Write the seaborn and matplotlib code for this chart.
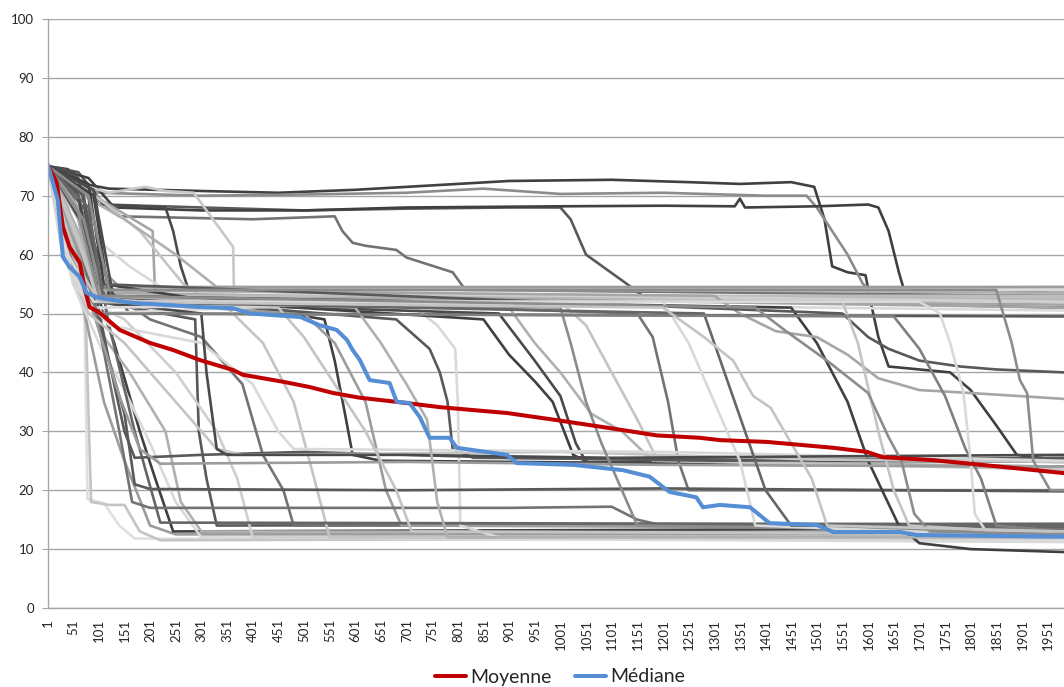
import matplotlib
matplotlib.use('Agg')
import pandas as pd
import matplotlib.pyplot as plt
import seaborn as sns

# individual runs: (iteration, value) breakpoints
run_steps = [
    [(1,75),(40,74.5),(70,72),(120,71.2),(300,70.8),(450,70.5),(600,71),(700,71.5),(900,72.5),(1100,72.7),(1250,72.3),(1350,72),(1450,72.3),(1495,71.5),(1515,66),(1530,58),(1560,57),(1595,56.5),(1605,52),(1620,46),(1640,41),(1700,40.5),(1760,40),(1800,37),(1850,31),(1890,26),(1982,25)],
    [(1,75),(50,73),(100,70.5),(300,70),(500,70.2),(700,70.5),(850,71.2),(1000,70.3),(1200,70.5),(1400,70),(1480,70),(1500,68),(1560,60),(1590,55),(1620,53),(1982,53)],
    [(1,75),(60,74),(110,68.5),(300,68),(500,67.5),(700,67.8),(900,68),(1000,68),(1020,66),(1050,60),(1090,57.5),(1130,55),(1160,53),(1982,52)],
    [(1,75),(80,73),(130,68),(300,67.5),(500,67.5),(700,68),(1000,68.2),(1200,68.3),(1340,68.2),(1350,69.5),(1360,68),(1500,68.2),(1600,68.5),(1620,68),(1640,64),(1660,57),(1670,54),(1982,53.5)],
    [(1,75),(90,70),(140,66.5),(400,66),(560,66.5),(575,64),(595,62),(620,61.5),(680,60.8),(700,59.5),(790,57),(815,54),(1982,53)],
    [(1,75),(60,72),(120,70.5),(190,71.5),(230,70.8),(285,70.5),(362,61.3),(364,52),(1982,52.5)],
    [(1,75),(50,74),(100,68.5),(230,68),(245,64),(260,58),(275,54),(1982,51)],
    [(1,75),(60,72),(110,69),(205,64),(210,53),(1982,51.5)],
    [(1,75),(60,71),(100,69.5),(180,64),(265,55),(300,53),(1982,52)],
    [(1,75),(70,70),(150,66),(250,60),(330,54.5),(1982,53.5)],
    [(1,75),(50,69),(90,63),(160,58),(230,54),(1982,54)],
    [(1,75),(40,68),(70,58),(90,53),(1982,52.5)],
    [(1,75),(30,65),(60,56),(100,54),(1982,54.5)],
    [(1,75),(50,70),(75,60),(110,53.5),(1982,51)],
    [(1,75),(25,62),(55,55),(80,52.5),(1982,50.5)],
    [(1,75),(60,73),(90,62),(120,55),(160,50),(1982,49.5)],
    [(1,75),(45,66),(85,56),(140,53),(1982,53)],
    [(1,75),(35,60),(60,54),(1982,52)],
    [(1,75),(70,66),(100,58),(140,54.5),(1982,54.5)],
    [(1,75),(30,62),(60,53),(72,50),(78,18.5),(110,17.8),(140,14),(170,11.8),(1982,11.5)],
    [(1,75),(40,63),(68,52),(75,48),(85,18),(120,17.5),(150,17.5),(180,13),(220,11.5),(1982,12)],
    [(1,75),(50,60),(80,47),(110,35),(150,25),(200,14),(250,12.5),(1982,12.5)],
    [(1,75),(70,70),(90,55),(130,45),(180,30),(210,22),(245,13),(1982,13.5)],
    [(1,75),(50,55),(100,45),(150,37),(200,28),(250,18),(300,12),(1982,11.2)],
    [(1,75),(60,58),(110,46),(160,40),(230,30),(260,18),(300,13),(1982,12.8)],
    [(1,75),(80,70),(100,52),(288,49),(295,30),(310,22),(330,14),(1982,14.3)],
    [(1,75),(40,60),(80,52),(150,49),(250,40),(330,30),(370,22),(400,12),(1982,11.8)],
    [(1,75),(60,68),(100,55),(200,49),(300,46),(380,38),(420,26),(460,20),(480,14),(1982,14)],
    [(1,75),(60,62),(100,53),(350,51),(420,45),(480,35),(520,22),(550,12),(1982,12)],
    [(1,75),(80,72),(110,55),(400,51),(540,49),(560,42),(580,33),(595,26),(650,25),(1982,24)],
    [(1,75),(60,60),(90,52),(500,50),(560,45),(620,35),(660,20),(690,14),(1982,13.5)],
    [(1,75),(70,70),(110,53),(680,49),(745,44),(765,40),(780,35),(790,27),(830,25.5),(1982,24.8)],
    [(1,75),(50,58),(80,50),(700,52),(760,48),(795,44),(800,35),(805,14),(880,12),(1982,12)],
    [(1,75),(90,70),(120,53),(850,49),(900,43),(950,38.5),(985,35),(1025,26),(1060,24.5),(1982,24)],
    [(1,75),(90,71),(130,52),(880,50),(950,42),(1000,36),(1030,28),(1050,24.8),(1982,25)],
    [(1,75),(60,66),(100,53),(900,51),(950,45),(1000,40),(1060,33),(1120,30),(1180,25),(1982,24)],
    [(1,75),(50,60),(90,52),(1000,52),(1050,48),(1100,40),(1150,32),(1190,25),(1982,23.5)],
    [(1,75),(60,70),(110,53),(1150,50),(1180,46),(1210,35),(1230,25),(1250,20),(1982,20)],
    [(1,75),(70,60),(110,45),(150,33),(170,21),(200,20.2),(700,20),(1200,20.3),(1982,19.8)],
    [(1,75),(60,62),(100,48),(140,30),(165,18),(200,17),(900,17),(1100,17.2),(1150,15),(1200,14),(1982,13.5)],
    [(1,75),(80,67),(120,48),(170,30),(220,14.5),(1982,14.2)],
    [(1,75),(70,65),(100,53),(1450,51),(1500,45),(1560,35),(1600,25),(1660,14),(1700,11),(1800,10),(1982,9.5)],
    [(1,75),(60,68),(100,54),(1300,53),(1350,50),(1420,47),(1500,46),(1560,43),(1620,39),(1700,37),(1800,36.5),(1982,35.5)],
    [(1,75),(70,70),(100,55),(1550,50),(1600,46),(1640,44),(1700,42),(1780,41),(1850,40.5),(1982,40)],
    [(1,75),(60,70),(90,55),(120,42),(150,30),(170,25.5),(300,26),(500,26.5),(900,25.5),(1300,25),(1982,25.5)],
    [(1,75),(50,64),(90,50),(140,36),(180,27),(220,24.5),(700,24.8),(1200,24.3),(1982,24)],
    [(1,75),(40,58),(80,50),(150,45),(250,35),(330,27),(380,26),(1000,26.5),(1500,25.2),(1982,24.8)],
    [(1,75),(50,55),(120,48),(300,45),(400,38),(450,30),(480,27),(1200,26.5),(1982,25)],
    [(1,75),(60,70),(100,52),(300,50),(310,40),(330,27),(350,26),(700,26),(1100,25.5),(1982,26)],
    [(1,75),(60,58),(100,52),(450,51),(500,46),(560,38),(620,30),(680,20),(710,13),(1982,12.5)],
    [(1,75),(60,64),(100,53),(600,51),(650,45),(700,38),(740,32),(760,18),(780,12),(1982,12)],
    [(1,75),(70,66),(110,52),(1000,51),(1020,45),(1050,35),(1080,28),(1110,22),(1150,14),(1982,13)],
    [(1,75),(50,56),(90,51),(1200,52),(1250,45),(1300,35),(1350,25),(1380,14),(1982,12)],
    [(1,75),(80,68),(110,52),(1280,50),(1320,40),(1360,30),(1400,20),(1450,14),(1982,13.8)],
    [(1,75),(60,63),(100,52),(1550,52),(1580,45),(1620,30),(1650,20),(1680,14),(1982,12.5)],
    [(1,75),(50,58),(100,50),(1650,49.5),(1700,44),(1750,36),(1790,27),(1820,22),(1850,14),(1982,13)],
    [(1,75),(40,60),(90,52),(1700,52),(1740,50),(1760,45),(1786,36.5),(1800,25),(1808,16),(1830,13),(1982,12)],
    [(1,75),(60,67),(100,53),(1380,51),(1440,47),(1520,42),(1600,36.5),(1640,29),(1665,25),(1690,16),(1720,13),(1982,12.5)],
    [(1,75),(60,62),(100,52),(1200,51),(1280,46),(1337,42),(1376,36),(1410,34),(1430,31),(1490,22),(1520,14),(1982,13)],
    [(1,75),(80,70),(120,54),(1850,54),(1880,45),(1896,38.7),(1910,36.5),(1922,25),(1955,20),(1982,20)],
]
run_shades = ['#404040', '#8c8c8c', '#595959', '#404040', '#737373', '#c8c8c8', '#4a4a4a', '#a6a6a6',
              '#c4c4c4', '#b0b0b0', '#d9d9d9', '#b8b8b8', '#c8c8c8', '#a6a6a6', '#d9d9d9', '#595959',
              '#bdbdbd', '#d0d0d0', '#9c9c9c', '#e0e0e0', '#c4c4c4', '#9c9c9c', '#404040', '#d9d9d9',
              '#b0b0b0', '#595959', '#cfcfcf', '#737373', '#c4c4c4', '#404040', '#9c9c9c', '#595959',
              '#d9d9d9', '#404040', '#4a4a4a', '#b0b0b0', '#c4c4c4', '#737373', '#595959', '#737373',
              '#666666', '#404040', '#a6a6a6', '#595959', '#595959', '#9c9c9c', '#c4c4c4', '#d9d9d9',
              '#4a4a4a', '#c4c4c4', '#b0b0b0', '#8c8c8c', '#d9d9d9', '#666666', '#c4c4c4', '#808080',
              '#d9d9d9', '#8c8c8c', '#c4c4c4', '#8c8c8c']

mean_x = [1, 18, 30, 43, 63, 73, 82, 102, 141, 200, 245, 297, 362, 381, 460, 512, 557, 609, 681, 765, 896,
          993, 1122, 1188, 1272, 1311, 1402, 1532, 1598, 1629, 1727, 1857, 1982]
mean_y = [75.2, 72.2, 64.7, 61.3, 58.6, 54, 51.1, 50.1, 47.2, 45, 43.8, 42.1, 40.4, 39.6, 38.4, 37.5, 36.5, 35.7,
          35, 34.1, 33.1, 31.9, 30.2, 29.3, 28.9, 28.5, 28.2, 27.2, 26.5, 25.6, 25.1, 24.0, 22.9]

median_x = [1, 20, 30, 43, 63, 76, 102, 167, 297, 362, 395, 493, 531, 564, 584, 595, 609, 628, 667, 681, 706,
            726, 745, 784, 798, 896, 915, 1025, 1122, 1174, 1213, 1265, 1278, 1311, 1370, 1408, 1500, 1532,
            1662, 1695, 1982]
median_y = [75.2, 69.3, 59.6, 57.9, 56.2, 53.5, 52.6, 51.8, 51.1, 50.9, 50, 49.4, 48, 47.2, 45.5, 43.8, 42.1,
            38.7, 38.2, 35, 34.8, 32.4, 28.9, 28.9, 27.2, 26, 24.6, 24.3, 23.4, 22.3, 19.7, 18.8, 17.1, 17.5,
            17.1, 14.4, 14.1, 12.9, 12.9, 12.4, 12.1]

sns.set_style("white")
plt.rcParams['font.family'] = ['Lato', 'DejaVu Sans']

fig = plt.figure(figsize=(10.64, 6.87), dpi=100)
ax = fig.add_axes([48/1064, 79/687, 1016/1064, 589/687])

for steps, shade in zip(run_steps, run_shades):
    df = pd.DataFrame(steps, columns=["iter", "value"])
    sns.lineplot(x="iter", y="value", data=df, ax=ax, color=shade, lw=1.9,
                 sort=False, estimator=None, legend=False)

sns.lineplot(x=mean_x, y=mean_y, ax=ax, color="#c00000", lw=2.9, sort=False,
             estimator=None, label="Moyenne")
sns.lineplot(x=median_x, y=median_y, ax=ax, color="#558ed5", lw=2.9, sort=False,
             estimator=None, label="Médiane")

ax.set_xlim(1, 1982)
ax.set_ylim(0, 100)
ax.set_yticks(range(0, 101, 10))
ax.set_xticks(range(1, 1982, 50))
ax.set_xticklabels([str(t) for t in range(1, 1982, 50)], rotation=90)
ax.yaxis.grid(True, color="#a6a6a6", lw=1.0)
ax.set_axisbelow(True)
ax.xaxis.grid(False)
for side in ["top", "right"]:
    ax.spines[side].set_visible(False)
for side in ["left", "bottom"]:
    ax.spines[side].set_color("#a6a6a6")
    ax.spines[side].set_linewidth(1.0)
ax.tick_params(axis="y", length=4, color="#a6a6a6", labelsize=9.5, pad=6, left=True)
ax.tick_params(axis="x", length=0, labelsize=9.5, pad=8)
ax.set_xlabel("")
ax.set_ylabel("")

handles, labels = ax.get_legend_handles_labels()
ax.legend(handles, labels, loc="center", bbox_to_anchor=(560/1064, 10/687),
          bbox_transform=fig.transFigure, ncol=2, frameon=False, fontsize=14,
          handlelength=1.6, handletextpad=0.2, columnspacing=1.2)

fig.savefig("out.png", dpi=100)
